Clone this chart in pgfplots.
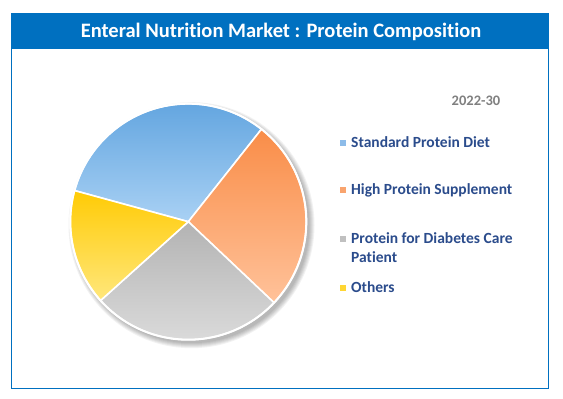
\documentclass[border=0pt]{standalone}
\usepackage{pgfplots}
\pgfplotsset{compat=1.18}
\usepackage{pgfplotstable}
\usepackage{fontspec}
\setmainfont{Carlito}[Ligatures=NoCommon]
\definecolor{frameblue}{HTML}{0070C0}
\definecolor{legtext}{HTML}{2B4C8C}
\definecolor{blueT}{HTML}{64A6E0}
\definecolor{blueB}{HTML}{A9D1F4}
\definecolor{orangeT}{HTML}{F98D48}
\definecolor{orangeB}{HTML}{FFC29A}
\definecolor{grayT}{HTML}{B3B3B3}
\definecolor{grayB}{HTML}{DADADA}
\definecolor{yellowT}{HTML}{FFCB05}
\definecolor{yellowB}{HTML}{FFE77C}
\definecolor{blueS}{HTML}{8DBCE9}
\definecolor{orangeS}{HTML}{F9A46E}
\definecolor{grayS}{HTML}{C0C0C0}
\definecolor{yellowS}{HTML}{FFD633}
\pgfplotstableread{
pct
31.4
26.4
26.3
15.9
}\piedata
\pgfplotstablegetelem{0}{pct}\of\piedata\let\pA\pgfplotsretval
\pgfplotstablegetelem{1}{pct}\of\piedata\let\pB\pgfplotsretval
\pgfplotstablegetelem{2}{pct}\of\piedata\let\pC\pgfplotsretval
\pgfplotstablegetelem{3}{pct}\of\piedata\let\pD\pgfplotsretval
\pgfmathsetmacro\aA{164.7}
\pgfmathsetmacro\aB{\aA-3.6*\pA}
\pgfmathsetmacro\aC{\aB-3.6*\pB}
\pgfmathsetmacro\aD{\aC-3.6*\pC}
\pgfmathsetmacro\aE{\aD-3.6*\pD}
\def\cx{188.3}
\def\cy{177.3}
\def\R{118}
\begin{document}
\begin{tikzpicture}
\begin{axis}[
  hide axis, scale only axis, width=563bp, height=399bp,
  xmin=0, xmax=563, ymin=0, ymax=399, enlargelimits=false, clip=false,
]
% canvas
\fill[white] (axis cs:0,0) rectangle (axis cs:563,399);
\draw[frameblue, line width=1bp] (axis cs:11.5,10) rectangle (axis cs:548.5,385);
\fill[frameblue] (axis cs:11,350) rectangle (axis cs:549,385.5);
\node[text=white, font=\fontsize{20.5bp}{24bp}\selectfont\bfseries] at (axis cs:281,367.5) {Enteral Nutrition Market : Protein Composition};
% shadow
\pgfplotsinvokeforeach{0,1,2,3,4,5}{
  \fill[black, opacity=0.05] (axis cs:191.5,173.8) circle[radius=118+#1];
}
% slices
\addplot[draw=white, line width=1.6bp, top color=blueT, bottom color=blueB, domain=\aB:\aA, samples=80]
  ({\cx+\R*cos(x)},{\cy+\R*sin(x)}) -- (axis cs:188.3,177.3) -- cycle;
\addplot[draw=white, line width=1.6bp, top color=orangeT, bottom color=orangeB, domain=\aC:\aB, samples=80]
  ({\cx+\R*cos(x)},{\cy+\R*sin(x)}) -- (axis cs:188.3,177.3) -- cycle;
\addplot[draw=white, line width=1.6bp, top color=grayT, bottom color=grayB, domain=\aD:\aC, samples=80]
  ({\cx+\R*cos(x)},{\cy+\R*sin(x)}) -- (axis cs:188.3,177.3) -- cycle;
\addplot[draw=white, line width=1.6bp, top color=yellowT, bottom color=yellowB, domain=\aE:\aD, samples=80]
  ({\cx+\R*cos(x)},{\cy+\R*sin(x)}) -- (axis cs:188.3,177.3) -- cycle;
\draw[white, line width=2bp] (axis cs:188.3,177.3) circle[radius=118];
% legend
\node[text=gray, font=\fontsize{14.5bp}{17bp}\selectfont\bfseries] at (axis cs:476,298) {2022-30};
\node[anchor=west, text=legtext, align=left, inner sep=0pt, font=\fontsize{15.5bp}{19bp}\selectfont\bfseries] at (axis cs:340,257) {\textcolor{blueS}{\raisebox{1.4bp}{\rule{6bp}{6bp}}}\hspace{5bp}Standard Protein Diet};
\node[anchor=west, text=legtext, align=left, inner sep=0pt, font=\fontsize{15.5bp}{19bp}\selectfont\bfseries] at (axis cs:340,209) {\textcolor{orangeS}{\raisebox{1.4bp}{\rule{6bp}{6bp}}}\hspace{5bp}High Protein Supplement};
\node[anchor=west, text=legtext, align=left, inner sep=0pt, font=\fontsize{15.5bp}{19bp}\selectfont\bfseries] at (axis cs:340,151.5) {\textcolor{grayS}{\raisebox{1.4bp}{\rule{6bp}{6bp}}}\hspace{5bp}Protein for Diabetes Care\\\hspace*{11bp}Patient};
\node[anchor=west, text=legtext, align=left, inner sep=0pt, font=\fontsize{15.5bp}{19bp}\selectfont\bfseries] at (axis cs:340,112) {\textcolor{yellowS}{\raisebox{1.4bp}{\rule{6bp}{6bp}}}\hspace{5bp}Others};
\end{axis}
\end{tikzpicture}
\end{document}
